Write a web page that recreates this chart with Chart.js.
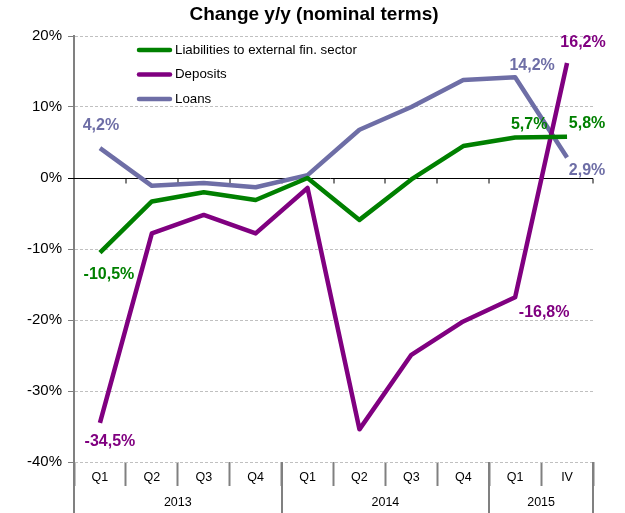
<!DOCTYPE html>
<html>
<head>
<meta charset="utf-8">
<script src="https://cdn.jsdelivr.net/npm/chart.js@4/dist/chart.umd.min.js"></script>
<style>
  body { margin: 0; background: #fff; }
  canvas { display: block; }
</style>
</head>
<body>
<canvas id="grafico" width="625" height="513"></canvas>
<script>
const chartTitle = 'Change y/y (nominal terms)';
const quarters = ['Q1', 'Q2', 'Q3', 'Q4', 'Q1', 'Q2', 'Q3', 'Q4', 'Q1', 'IV'];
const years = ['2013', '2014', '2015'];
const yearSpans = [4, 4, 2];

const liabilities = [-10.5, -3.3, -2.0, -3.1, 0.0, -5.9, -0.2, 4.5, 5.7, 5.8];
const deposits = [-34.5, -7.8, -5.2, -7.8, -1.4, -35.4, -24.9, -20.2, -16.8, 16.2];
const loans = [4.2, -1.1, -0.7, -1.3, 0.4, 6.8, 10.0, 13.8, 14.2, 2.9];

const labelledPoints = [0, 8, 9]; // points that carry a value label

const font = "'Liberation Sans', Arial, sans-serif";
const axisGray = '#808080';

// label offsets from the point, per dataset and per labelled point
const labelOffsets = [
    [[9, 22], [14, -13], [20, -13]],   // liabilities
    [[10, 19], [29, 15], [16, -20]],   // deposits
    [[1, -23], [17, -12], [20, 13]]    // loans
];

const extras = {
    id: 'extras',
    beforeDatasetsDraw(chart) {
        const ctx = chart.ctx;
        const area = chart.chartArea;
        const y = chart.scales.y;
        const y0 = Math.round(y.getPixelForValue(0)) + 0.5;
        const step = (area.right - area.left) / quarters.length;
        ctx.save();
        ctx.strokeStyle = '#000';
        ctx.lineWidth = 1;
        ctx.beginPath();
        ctx.moveTo(area.left - 6, y0);
        ctx.lineTo(area.right, y0);
        for (let i = 1; i <= quarters.length; i++) {
            const x = Math.round(area.left + i * step);
            ctx.moveTo(x, y0);
            ctx.lineTo(x, y0 + 5);
        }
        ctx.stroke();
        ctx.restore();
    },
    afterDatasetsDraw(chart) {
        const ctx = chart.ctx;
        const area = chart.chartArea;
        const step = (area.right - area.left) / quarters.length;
        ctx.save();

        // title
        ctx.fillStyle = '#000';
        ctx.font = 'bold 19px ' + font;
        ctx.textAlign = 'center';
        ctx.textBaseline = 'middle';
        ctx.fillText(chartTitle, 314, 15);

        // year separators and year labels
        ctx.strokeStyle = axisGray;
        ctx.lineWidth = 2;
        ctx.font = '12.5px ' + font;
        let start = 0;
        years.forEach((yr, i) => {
            const x1 = area.left + start * step;
            const x2 = area.left + (start + yearSpans[i]) * step;
            ctx.beginPath();
            ctx.moveTo(Math.round(x1), area.bottom);
            ctx.lineTo(Math.round(x1), 513);
            ctx.moveTo(Math.round(x2), area.bottom);
            ctx.lineTo(Math.round(x2), 513);
            ctx.stroke();
            ctx.fillText(yr, (x1 + x2) / 2, 503);
            start += yearSpans[i];
        });

        // legend inside the plot
        ctx.textAlign = 'left';
        chart.data.datasets.forEach((ds, i) => {
            const ly = 50 + i * 24.5;
            ctx.strokeStyle = ds.borderColor;
            ctx.lineWidth = 4.5;
            ctx.lineCap = 'round';
            ctx.beginPath();
            ctx.moveTo(139, ly);
            ctx.lineTo(170, ly);
            ctx.stroke();
            ctx.fillStyle = '#000';
            ctx.font = '13.3px ' + font;
            ctx.fillText(ds.label, 175, ly);
        });

        // value labels
        ctx.font = 'bold 16px ' + font;
        ctx.textAlign = 'center';
        chart.data.datasets.forEach((ds, i) => {
            const meta = chart.getDatasetMeta(i);
            labelledPoints.forEach((idx, k) => {
                const pt = meta.data[idx];
                const off = labelOffsets[i][k];
                const txt = ds.data[idx].toFixed(1).replace('.', ',') + '%';
                ctx.fillStyle = ds.borderColor;
                ctx.fillText(txt, pt.x + off[0], pt.y + off[1]);
            });
        });
        ctx.restore();
    }
};

const ctx = document.getElementById('grafico').getContext('2d');

new Chart(ctx, {
    type: 'line',
    data: {
        labels: quarters,
        datasets: [
            { label: 'Liabilities to external fin. sector', data: liabilities, borderColor: '#008000' },
            { label: 'Deposits', data: deposits, borderColor: '#800080' },
            { label: 'Loans', data: loans, borderColor: '#6e6ea6' }
        ]
    },
    options: {
        responsive: false,
        animation: false,
        layout: { padding: { left: 0, right: 32, top: 36, bottom: 0 } },
        elements: {
            line: { borderWidth: 4.5, tension: 0, borderJoinStyle: 'round', fill: false },
            point: { radius: 0, hoverRadius: 0 }
        },
        scales: {
            x: {
                offset: true,
                grid: {
                    offset: true,
                    drawOnChartArea: false,
                    drawTicks: true,
                    tickLength: 24,
                    tickWidth: 2,
                    tickColor: axisGray,
                    color: axisGray
                },
                border: { display: false },
                ticks: {
                    color: '#000',
                    font: { family: font, size: 12.5 },
                    padding: -16,
                    maxRotation: 0,
                    autoSkip: false
                },
                afterFit: function(scale) { scale.height = 51; }
            },
            y: {
                min: -40,
                max: 20,
                ticks: {
                    stepSize: 10,
                    color: '#000',
                    padding: 6,
                    font: { family: font, size: 15 },
                    callback: function(v) { return v + '%'; }
                },
                grid: {
                    color: function(c) { return c.tick && c.tick.value === 0 ? 'rgba(0,0,0,0)' : '#c0c0c0'; },
                    tickColor: axisGray,
                    tickLength: 6,
                    lineWidth: 1
                },
                border: { display: true, color: axisGray, width: 2, dash: [3, 2] },
                afterFit: function(scale) { scale.width = 74; }
            }
        },
        plugins: {
            legend: { display: false },
            tooltip: { enabled: false },
            title: { display: false }
        }
    },
    plugins: [extras]
});
</script>
</body>
</html>
